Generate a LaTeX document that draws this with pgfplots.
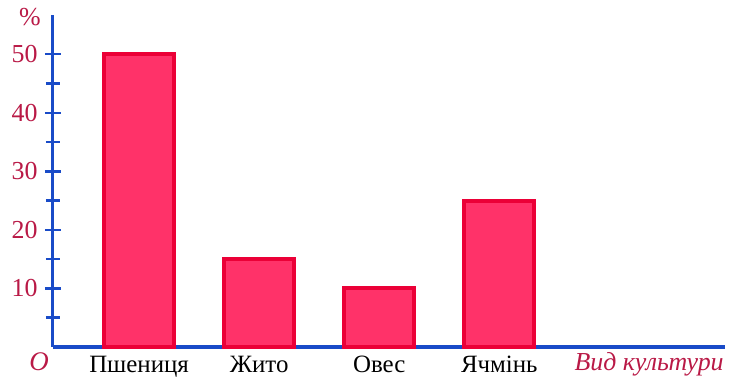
\documentclass[border=0pt]{standalone}
\usepackage{pgfplots}
\pgfplotsset{compat=1.18}
\usepackage{fontspec}
\setmainfont{Liberation Serif}
\definecolor{axblue}{RGB}{25,75,200}
\definecolor{labelred}{RGB}{185,25,70}
\definecolor{barfill}{RGB}{255,50,105}
\definecolor{bardraw}{RGB}{235,0,55}
\begin{document}
\begin{tikzpicture}
\begin{axis}[
  scale only axis, width=672bp, height=332bp,
  xmin=0.283, xmax=5.88, ymin=0, ymax=56.7,
  axis x line=bottom, axis y line=left,
  axis line style={-, axblue, line width=3bp},
  ytick={10,20,30,40,50}, minor ytick={5,15,25,35,45},
  tick align=center, major tick length=16bp, minor tick length=14bp,
  y tick style={axblue, line width=2.5bp},
  yticklabel style={text=labelred, font=\fontsize{26}{26}\selectfont, xshift=-4bp},
  xtick={1,2,3,4}, xticklabels={Пшениця,Жито,Овес,Ячмінь},
  x tick style={draw=none},
  xticklabel style={font=\fontsize{25}{25}\selectfont, inner sep=0pt, yshift=7bp},
  /pgf/number format/assume math mode=true,
  ybar, bar width=70bp,
  clip=false,
]
\addplot[fill=barfill, draw=bardraw, line width=4bp] coordinates {(1,50)(2,15)(3,10)(4,25)};
\end{axis}
\node[text=labelred, font=\fontsize{26}{26}\selectfont] at (-23bp,330bp) {\%};
\node[text=labelred, font=\itshape\fontsize{27}{27}\selectfont] at (-14bp,-15bp) {O};
\node[text=labelred, font=\itshape\fontsize{26}{26}\selectfont, anchor=base west] at (518bp,-23bp) {Вид культури};
\pgfresetboundingbox
\path (-53bp,-31bp) rectangle (677bp,347bp);
\end{tikzpicture}
\end{document}
